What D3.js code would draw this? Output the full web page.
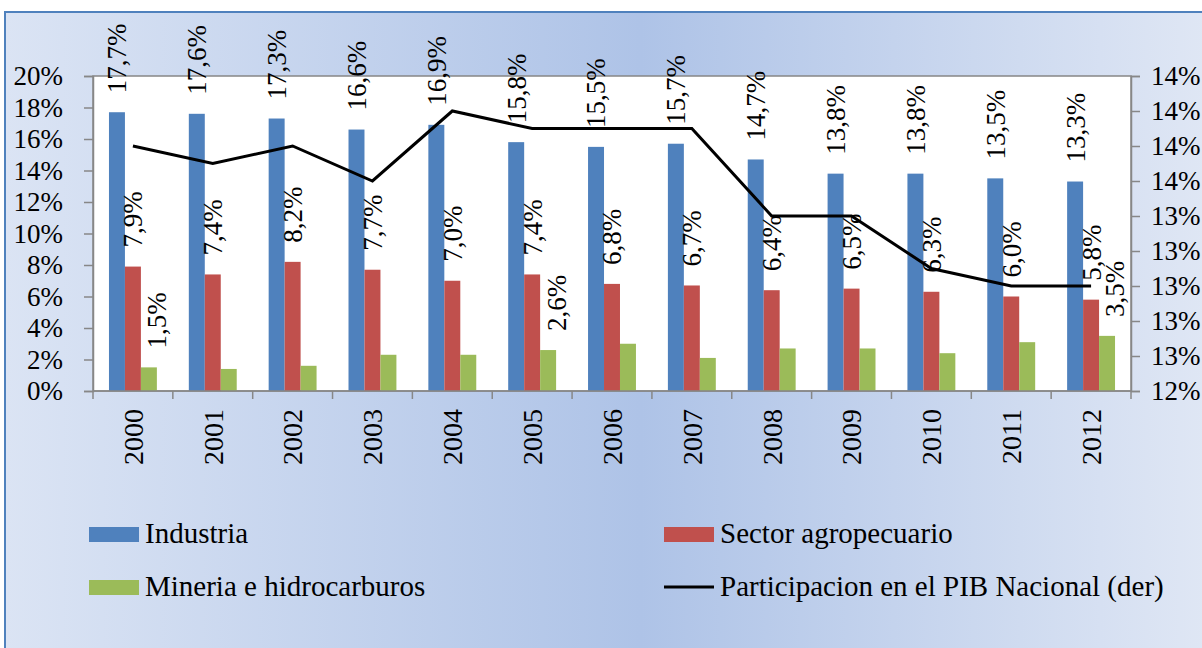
<!DOCTYPE html>
<html>
<head>
<meta charset="utf-8">
<script src="https://cdn.jsdelivr.net/npm/d3@7"></script>
<style>
  html, body { margin: 0; padding: 0; background: #ffffff; }
  svg { display: block; }
</style>
</head>
<body>
<svg id="chart" width="1202" height="648"></svg>
<script>
// ---------- DATA ----------
const years = ["2000","2001","2002","2003","2004","2005","2006","2007","2008","2009","2010","2011","2012"];
const industria = [17.7,17.6,17.3,16.6,16.9,15.8,15.5,15.7,14.7,13.8,13.8,13.5,13.3];
const agropecuario = [7.9,7.4,8.2,7.7,7.0,7.4,6.8,6.7,6.4,6.5,6.3,6.0,5.8];
const mineria = [1.5,1.4,1.6,2.3,2.3,2.6,3.0,2.1,2.7,2.7,2.4,3.1,3.5];
const participacionPIB = [13.8,13.7,13.8,13.6,14.0,13.9,13.9,13.9,13.4,13.4,13.1,13.0,13.0];
const mineriaLabelYears = ["2000","2005","2012"];
const seriesNames = ["Industria","Sector agropecuario","Mineria e hidrocarburos"];
const lineName = "Participacion en el PIB Nacional (der)";
const leftTicks = [0,2,4,6,8,10,12,14,16,18,20];
const leftTickLabels = ["0%","2%","4%","6%","8%","10%","12%","14%","16%","18%","20%"];
const rightTicks = [12.4,12.6,12.8,13.0,13.2,13.4,13.6,13.8,14.0,14.2];
const rightTickLabels = ["12%","13%","13%","13%","13%","13%","14%","14%","14%","14%"];

// ---------- LAYOUT ----------
const W = 1202, H = 648;
const FONT = '"Liberation Serif", Tinos, "Times New Roman", "DejaVu Serif", serif';
const plot = { left: 93, right: 1131, top: 76, bottom: 391 };
const colors = ["#4F81BD", "#C0504D", "#9BBB59"];
const axisColor = "#878787";
const fmtLabel = d3.formatLocale({decimal: ",", thousands: ".", grouping: [3], currency: ["", ""]}).format(".1f");

const svg = d3.select("#chart");

// background
const defs = svg.append("defs");
const grad = defs.append("linearGradient").attr("id", "bg")
  .attr("x1", "0%").attr("y1", "0%").attr("x2", "100%").attr("y2", "0%");
grad.append("stop").attr("offset", "0%").attr("stop-color", "#dbe4f4");
grad.append("stop").attr("offset", "52%").attr("stop-color", "#aec3e7");
grad.append("stop").attr("offset", "100%").attr("stop-color", "#e1e8f5");

svg.append("rect").attr("x", 5).attr("y", 12).attr("width", W + 20).attr("height", H + 20)
  .attr("fill", "url(#bg)").attr("stroke", "#4F81BD").attr("stroke-width", 2);

// plot area
svg.append("rect").attr("x", plot.left).attr("y", plot.top)
  .attr("width", plot.right - plot.left).attr("height", plot.bottom - plot.top)
  .attr("fill", "#ffffff").attr("stroke", axisColor).attr("stroke-width", 1.5);

// scales
const x = d3.scaleBand().domain(years).range([plot.left, plot.right]).padding(0);
const bw = x.bandwidth();
const xs = d3.scaleBand().domain(seriesNames).range([0.2 * bw, 0.8 * bw]).padding(0);
const yL = d3.scaleLinear().domain([0, 20]).range([plot.bottom, plot.top]);
const yR = d3.scaleLinear().domain([12.4, 14.2]).range([plot.bottom, plot.top]);

const seriesData = [industria, agropecuario, mineria];

// bars
seriesData.forEach((vals, si) => {
  svg.append("g").selectAll("rect").data(years).join("rect")
    .attr("x", d => x(d) + xs(seriesNames[si]))
    .attr("width", xs.bandwidth())
    .attr("y", (d, i) => yL(vals[i]))
    .attr("height", (d, i) => yL(0) - yL(vals[i]))
    .attr("fill", colors[si]);
});

// line
const line = d3.line().x((d, i) => x(years[i]) + bw / 2).y(d => yR(d));
svg.append("path").datum(participacionPIB).attr("d", line)
  .attr("fill", "none").attr("stroke", "#000").attr("stroke-width", 3)
  .attr("stroke-linejoin", "miter");

// data labels
seriesData.forEach((vals, si) => {
  const g = svg.append("g");
  years.forEach((yr, i) => {
    if (si === 2 && !mineriaLabelYears.includes(yr)) return;
    const cx = x(yr) + xs(seriesNames[si]) + xs.bandwidth() / 2 + (si === 2 ? 8 : 0);
    g.append("text")
      .attr("transform", `translate(${cx},${yL(vals[i]) - 19}) rotate(-90)`)
      .attr("dy", "0.35em")
      .attr("text-anchor", "start")
      .style("font-family", FONT)
      .style("font-size", "27px")
      .style("fill", "#000")
      .text(fmtLabel(vals[i]) + "%");
  });
});

// left axis
const axL = d3.axisLeft(yL).tickValues(leftTicks)
  .tickFormat((d, i) => leftTickLabels[i]).tickSize(9).tickPadding(21);
const gL = svg.append("g").attr("transform", `translate(${plot.left},0)`).call(axL);
// right axis
const axR = d3.axisRight(yR).tickValues(rightTicks)
  .tickFormat((d, i) => rightTickLabels[i]).tickSize(9).tickPadding(11);
const gR = svg.append("g").attr("transform", `translate(${plot.right},0)`).call(axR);
// bottom axis (ticks at category boundaries)
const boundaries = years.map(y => x(y)).concat([plot.right]);
const gB = svg.append("g");
gB.append("line").attr("x1", plot.left).attr("x2", plot.right)
  .attr("y1", plot.bottom).attr("y2", plot.bottom);
gB.selectAll("line.tk").data(boundaries).join("line").attr("class", "tk")
  .attr("x1", d => d).attr("x2", d => d).attr("y1", plot.bottom).attr("y2", plot.bottom + 8);
gB.selectAll("line").attr("stroke", axisColor).attr("stroke-width", 1.5);
gB.selectAll("text").data(years).join("text")
  .attr("transform", d => `translate(${x(d) + bw / 2},${409}) rotate(-90)`)
  .attr("dy", "0.35em").attr("text-anchor", "end")
  .style("font-family", FONT).style("fill", "#000")
  .style("font-size", "28px").text(d => d);

[gL, gR].forEach(g => {
  g.attr("font-family", null).attr("font-size", null);
  g.select(".domain").attr("stroke", axisColor).attr("stroke-width", 1.5);
  g.selectAll(".tick line").attr("stroke", axisColor).attr("stroke-width", 1.5);
  g.selectAll(".tick text").style("font-size", "27px")
    .style("font-family", FONT).style("fill", "#000").attr("fill", "#000");
});

// legend
const legend = svg.append("g");
const legItems = [
  { name: seriesNames[0], type: "rect", color: colors[0], x: 89, y: 543 },
  { name: seriesNames[1], type: "rect", color: colors[1], x: 664, y: 543 },
  { name: seriesNames[2], type: "rect", color: colors[2], x: 89, y: 596 },
  { name: lineName, type: "line", color: "#000", x: 664, y: 596 }
];
legItems.forEach(it => {
  if (it.type === "rect") {
    legend.append("rect").attr("x", it.x).attr("y", it.y - 16).attr("width", 50).attr("height", 15)
      .attr("fill", it.color);
  } else {
    legend.append("line").attr("x1", it.x).attr("x2", it.x + 50).attr("y1", it.y - 9).attr("y2", it.y - 9)
      .attr("stroke", it.color).attr("stroke-width", 3);
  }
  legend.append("text").attr("x", it.x + 56).attr("y", it.y)
    .style("font-family", FONT).style("fill", "#000")
    .style("font-size", "29px").text(it.name);
});
</script>
</body>
</html>
